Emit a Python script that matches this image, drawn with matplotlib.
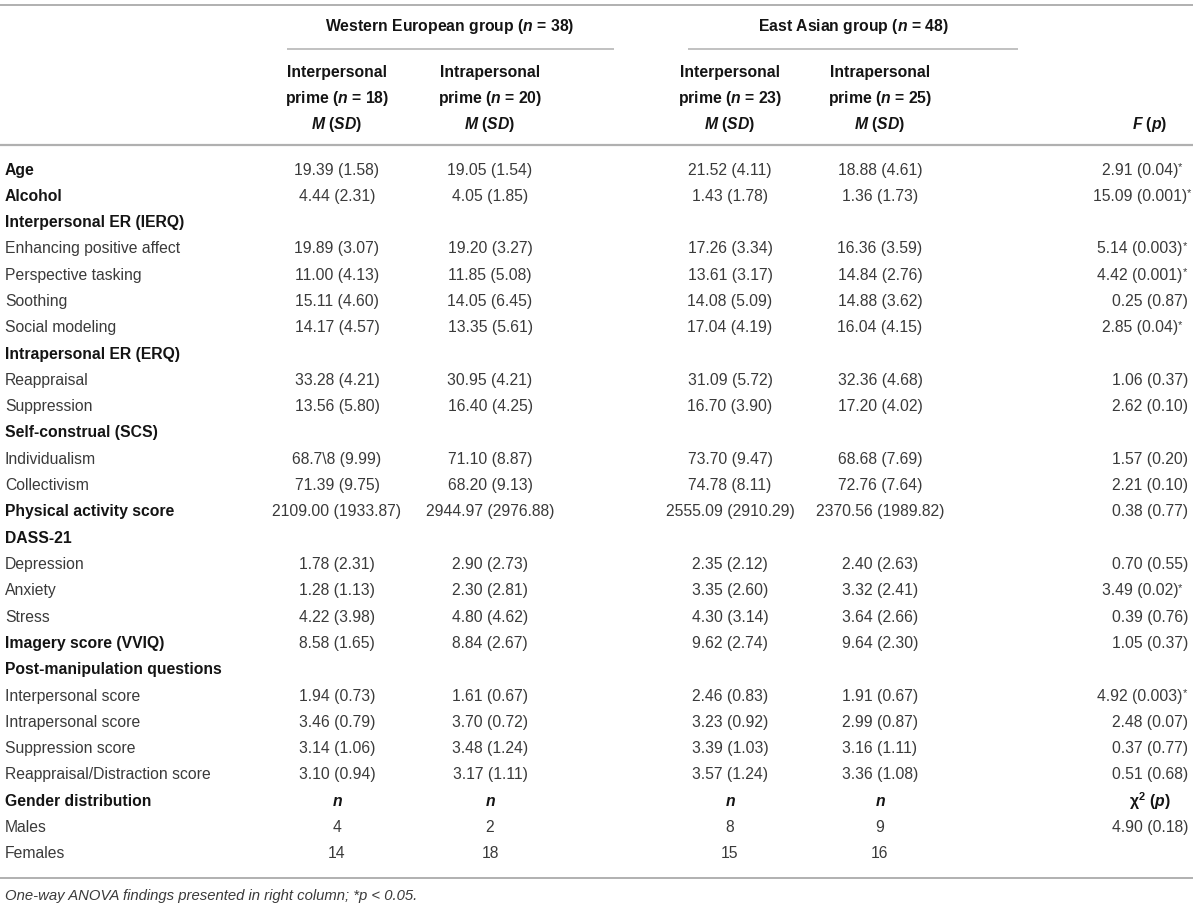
import matplotlib
matplotlib.use("Agg")
import matplotlib.pyplot as plt

plt.rcParams['font.family'] = ['Liberation Sans', 'DejaVu Sans']
plt.rcParams['mathtext.fontset'] = 'custom'
plt.rcParams['mathtext.rm'] = 'Liberation Sans:bold'
plt.rcParams['mathtext.it'] = 'Liberation Sans:italic:bold'
plt.rcParams['mathtext.bf'] = 'Liberation Sans:bold'

# ---------------- data ----------------
group_headers = ["Western European group ($n$ = 38)", "East Asian group ($n$ = 48)"]
sub_headers = ["Interpersonal\nprime ($n$ = 18)", "Intrapersonal\nprime ($n$ = 20)",
               "Interpersonal\nprime ($n$ = 23)", "Intrapersonal\nprime ($n$ = 25)"]
stat_header = "$M$ ($SD$)"
f_header = "$F$ ($p$)"

row_labels = ["Age", "Alcohol", "Interpersonal ER (IERQ)", "Enhancing positive affect",
              "Perspective tasking", "Soothing", "Social modeling", "Intrapersonal ER (ERQ)",
              "Reappraisal", "Suppression", "Self-construal (SCS)", "Individualism",
              "Collectivism", "Physical activity score", "DASS-21", "Depression", "Anxiety",
              "Stress", "Imagery score (VVIQ)", "Post-manipulation questions",
              "Interpersonal score", "Intrapersonal score", "Suppression score",
              "Reappraisal/Distraction score", "Gender distribution", "Males", "Females"]
row_bold = [True, True, True, False, False, False, False, True, False, False, True, False,
            False, True, True, False, False, False, True, True, False, False, False, False,
            True, False, False]

west_inter = ["19.39 (1.58)", "4.44 (2.31)", "", "19.89 (3.07)", "11.00 (4.13)", "15.11 (4.60)",
              "14.17 (4.57)", "", "33.28 (4.21)", "13.56 (5.80)", "", "68.7\\8 (9.99)",
              "71.39 (9.75)", "2109.00 (1933.87)", "", "1.78 (2.31)", "1.28 (1.13)",
              "4.22 (3.98)", "8.58 (1.65)", "", "1.94 (0.73)", "3.46 (0.79)", "3.14 (1.06)",
              "3.10 (0.94)", "$n$", "4", "14"]
west_intra = ["19.05 (1.54)", "4.05 (1.85)", "", "19.20 (3.27)", "11.85 (5.08)", "14.05 (6.45)",
              "13.35 (5.61)", "", "30.95 (4.21)", "16.40 (4.25)", "", "71.10 (8.87)",
              "68.20 (9.13)", "2944.97 (2976.88)", "", "2.90 (2.73)", "2.30 (2.81)",
              "4.80 (4.62)", "8.84 (2.67)", "", "1.61 (0.67)", "3.70 (0.72)", "3.48 (1.24)",
              "3.17 (1.11)", "$n$", "2", "18"]
east_inter = ["21.52 (4.11)", "1.43 (1.78)", "", "17.26 (3.34)", "13.61 (3.17)", "14.08 (5.09)",
              "17.04 (4.19)", "", "31.09 (5.72)", "16.70 (3.90)", "", "73.70 (9.47)",
              "74.78 (8.11)", "2555.09 (2910.29)", "", "2.35 (2.12)", "3.35 (2.60)",
              "4.30 (3.14)", "9.62 (2.74)", "", "2.46 (0.83)", "3.23 (0.92)", "3.39 (1.03)",
              "3.57 (1.24)", "$n$", "8", "15"]
east_intra = ["18.88 (4.61)", "1.36 (1.73)", "", "16.36 (3.59)", "14.84 (2.76)", "14.88 (3.62)",
              "16.04 (4.15)", "", "32.36 (4.68)", "17.20 (4.02)", "", "68.68 (7.69)",
              "72.76 (7.64)", "2370.56 (1989.82)", "", "2.40 (2.63)", "3.32 (2.41)",
              "3.64 (2.66)", "9.64 (2.30)", "", "1.91 (0.67)", "2.99 (0.87)", "3.16 (1.11)",
              "3.36 (1.08)", "$n$", "9", "16"]
f_values = ["2.91 (0.04)", "15.09 (0.001)", "", "5.14 (0.003)", "4.42 (0.001)", "0.25 (0.87)",
            "2.85 (0.04)", "", "1.06 (0.37)", "2.62 (0.10)", "", "1.57 (0.20)", "2.21 (0.10)",
            "0.38 (0.77)", "", "0.70 (0.55)", "3.49 (0.02)", "0.39 (0.76)", "1.05 (0.37)", "",
            "4.92 (0.003)", "2.48 (0.07)", "0.37 (0.77)", "0.51 (0.68)", "χ$^2$ ($p$)",
            "4.90 (0.18)", ""]
f_significant = [True, True, False, True, True, False, True, False, False, False, False, False,
                 False, False, False, False, True, False, False, False, True, False, False,
                 False, False, False, False]
footnote = "One-way ANOVA findings presented in right column; *p < 0.05."

# ---------------- layout ----------------
W, H = 1200, 909
fig = plt.figure(figsize=(12, 9.09), dpi=100)
ax = fig.add_axes([0, 0, 1, 1])
ax.set_xlim(0, W)
ax.set_ylim(H, 0)
ax.axis('off')

line_color = '#b0b0b0'
head_color = '#141414'
val_color = '#3a3a3a'
fs = 11.3

col_x = [337, 490, 730, 880]
f_x = 1150
f_x_star = 1140
group_x = [450, 853]
group_lines = [(287, 614), (688, 1018)]

# rules
ax.plot([0, 1193], [5, 5], color=line_color, lw=1.4, solid_capstyle='butt')
for (a, b) in group_lines:
    ax.plot([a, b], [49, 49], color=line_color, lw=1.1, solid_capstyle='butt')
ax.plot([0, 1193], [145, 145], color=line_color, lw=1.6, solid_capstyle='butt')
ax.plot([0, 1193], [878, 878], color=line_color, lw=1.4, solid_capstyle='butt')

# headers
for gx, gh in zip(group_x, group_headers):
    ax.text(gx, 27, gh, ha='center', va='center', fontsize=fs, fontweight='bold', color=head_color)
for cx, sh in zip(col_x, sub_headers):
    l1, l2 = sh.split("\n")
    ax.text(cx, 73, l1, ha='center', va='center', fontsize=fs, fontweight='bold', color=head_color)
    ax.text(cx, 99, l2, ha='center', va='center', fontsize=fs, fontweight='bold', color=head_color)
    ax.text(cx, 125, stat_header, ha='center', va='center', fontsize=fs, fontweight='bold', color=head_color)
ax.text(f_x, 125, f_header, ha='center', va='center', fontsize=fs, fontweight='bold', color=head_color)

# body
y0, dy = 170, 26.3
columns = [west_inter, west_intra, east_inter, east_intra]
for i, lab in enumerate(row_labels):
    y = y0 + i * dy
    ax.text(5, y, lab, ha='left', va='center', fontsize=fs,
            fontweight='bold' if row_bold[i] else 'normal',
            color=head_color if row_bold[i] else val_color)
    for cx, col in zip(col_x, columns):
        v = col[i]
        if v:
            isn = v.startswith("$")
            ax.text(cx, y, v, ha='center', va='center', fontsize=fs,
                    fontweight='bold' if isn else 'normal',
                    color=head_color if isn else val_color)
    fv = f_values[i]
    if fv:
        isn = "$" in fv
        t = ax.text(f_x_star if f_significant[i] else f_x, y, fv, ha='center', va='center',
                    fontsize=fs, fontweight='bold' if isn else 'normal',
                    color=head_color if isn else val_color)
        if f_significant[i]:
            ax.annotate("*", xy=(1, 1.02), xycoords=t, ha='left', va='top',
                        fontsize=8, color=val_color)

ax.text(5, 896, footnote, ha='left', va='center', fontsize=fs - 0.6,
        style='italic', color=val_color)

fig.savefig("out.png", dpi=100)
